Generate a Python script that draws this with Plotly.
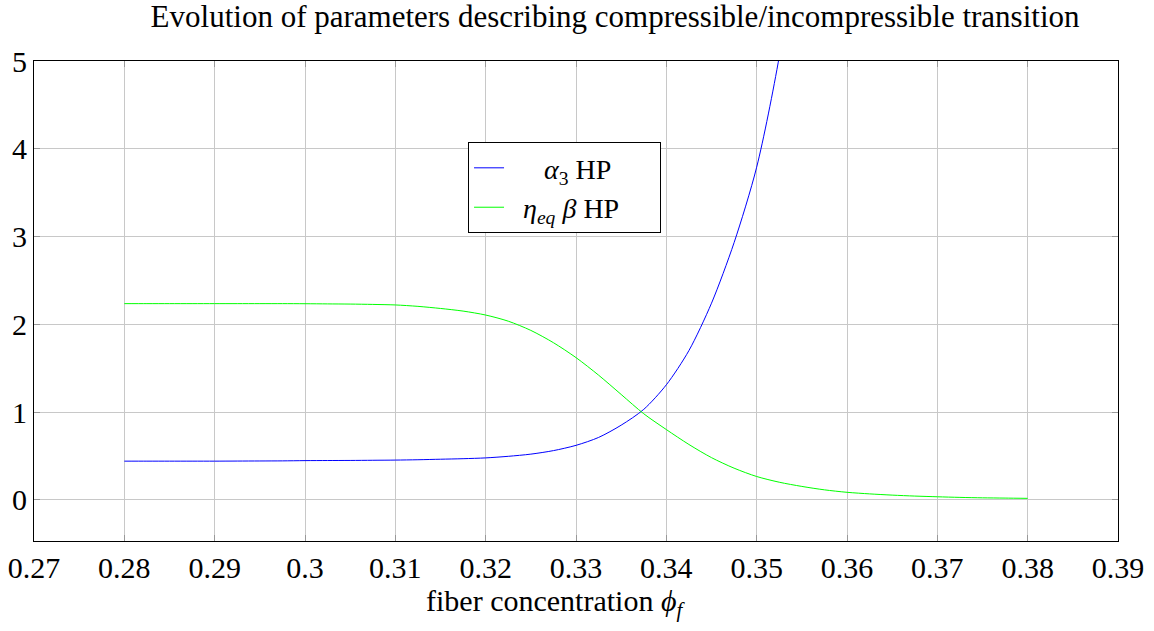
import plotly.graph_objects as go

# fiber concentration phi_f and the two curves
phi_alpha = [0.28, 0.2825, 0.285, 0.2875, 0.29, 0.2925, 0.295, 0.2975, 0.30, 0.3025,
             0.305, 0.3075, 0.31, 0.3125, 0.315, 0.3175, 0.32, 0.3225, 0.325, 0.3275,
             0.33, 0.3325, 0.335, 0.3375, 0.34, 0.3425, 0.345, 0.3475, 0.35, 0.3525,
             0.355]
alpha3 = [0.44, 0.44, 0.44, 0.44, 0.44, 0.441, 0.442, 0.443, 0.446, 0.447,
          0.448, 0.45, 0.452, 0.456, 0.462, 0.468, 0.477, 0.495, 0.52, 0.56,
          0.62, 0.71, 0.85, 1.03, 1.31, 1.70, 2.24, 2.93, 3.79, 5.05,
          6.8]

phi_eta = [0.28, 0.2825, 0.285, 0.2875, 0.29, 0.2925, 0.295, 0.2975, 0.30, 0.3025,
           0.305, 0.3075, 0.31, 0.3125, 0.315, 0.3175, 0.32, 0.3225, 0.325, 0.3275,
           0.33, 0.3325, 0.335, 0.3375, 0.34, 0.3425, 0.345, 0.3475, 0.35, 0.3525,
           0.355, 0.3575, 0.36, 0.3625, 0.365, 0.3675, 0.37, 0.3725, 0.375, 0.3775,
           0.38]
eta_beta = [2.235, 2.235, 2.235, 2.235, 2.235, 2.235, 2.235, 2.235, 2.234, 2.232,
            2.23, 2.226, 2.22, 2.204, 2.18, 2.15, 2.105, 2.035, 1.93, 1.79,
            1.62, 1.42, 1.2, 0.98, 0.80, 0.63, 0.48, 0.36, 0.265, 0.2,
            0.152, 0.113, 0.085, 0.067, 0.053, 0.042, 0.034, 0.027, 0.022, 0.019,
            0.016]

x_ticks = [0.27, 0.28, 0.29, 0.30, 0.31, 0.32, 0.33, 0.34, 0.35, 0.36, 0.37, 0.38, 0.39]
x_labels = ["0.27", "0.28", "0.29", "0.3", "0.31", "0.32", "0.33", "0.34", "0.35",
            "0.36", "0.37", "0.38", "0.39"]
y_ticks = [0, 1, 2, 3, 4, 5]

font = "Liberation Serif"
nb = "\u00a0"

fig = go.Figure()
fig.add_trace(go.Scatter(
    x=phi_alpha, y=alpha3, mode='lines',
    name=nb * 5 + '<i>α</i><sub>3</sub> HP',
    line=dict(color='#0000ff', width=1, shape='spline', smoothing=0.8)
))
fig.add_trace(go.Scatter(
    x=phi_eta, y=eta_beta, mode='lines',
    name=nb * 2 + '<i>η</i><sub><i>eq</i></sub> <i>β</i> HP' + nb * 5,
    line=dict(color='#00ff00', width=1, shape='spline', smoothing=0.8)
))

axis_style = dict(
    showgrid=True, gridcolor='#c8c8c8', gridwidth=1,
    showline=True, linecolor='black', linewidth=1, mirror='allticks',
    ticks='inside', ticklen=6, tickcolor='#999999',
    zeroline=False, automargin=False,
    tickfont=dict(family=font, size=30, color='black'),
)

fig.update_layout(
    title=dict(text='Evolution of parameters describing compressible/incompressible transition',
               x=0.533, xanchor='center', y=0.974, yanchor='middle',
               font=dict(family=font, size=31, color='black')),
    xaxis=dict(range=[0.27, 0.39], tickvals=x_ticks, ticktext=x_labels, **axis_style),
    yaxis=dict(range=[-0.47, 5], tickvals=y_ticks, **axis_style),
    legend=dict(x=0.4004, y=0.831, xanchor='left', yanchor='top',
                bordercolor='black', borderwidth=1, bgcolor='white',
                font=dict(family=font, size=28, color='black'),
                tracegroupgap=0),
    plot_bgcolor='white', paper_bgcolor='white',
    margin=dict(l=34, r=36, t=61, b=90, autoexpand=False),
    width=1154, height=631,
)

# x-axis title, placed where the reference has it (a bit left of centre)
fig.add_annotation(text='fiber concentration <i>ϕ</i><sub><i>f</i></sub>',
                   xref='paper', yref='paper', x=0.4815, y=-0.13,
                   xanchor='center', yanchor='middle', showarrow=False,
                   font=dict(family=font, size=30, color='black'))

# the page's default body margin pushes the figure 8px off; drop it
fig.write_html("out.html", config={'displayModeBar': False},
               post_script="document.body.style.margin='0';")
